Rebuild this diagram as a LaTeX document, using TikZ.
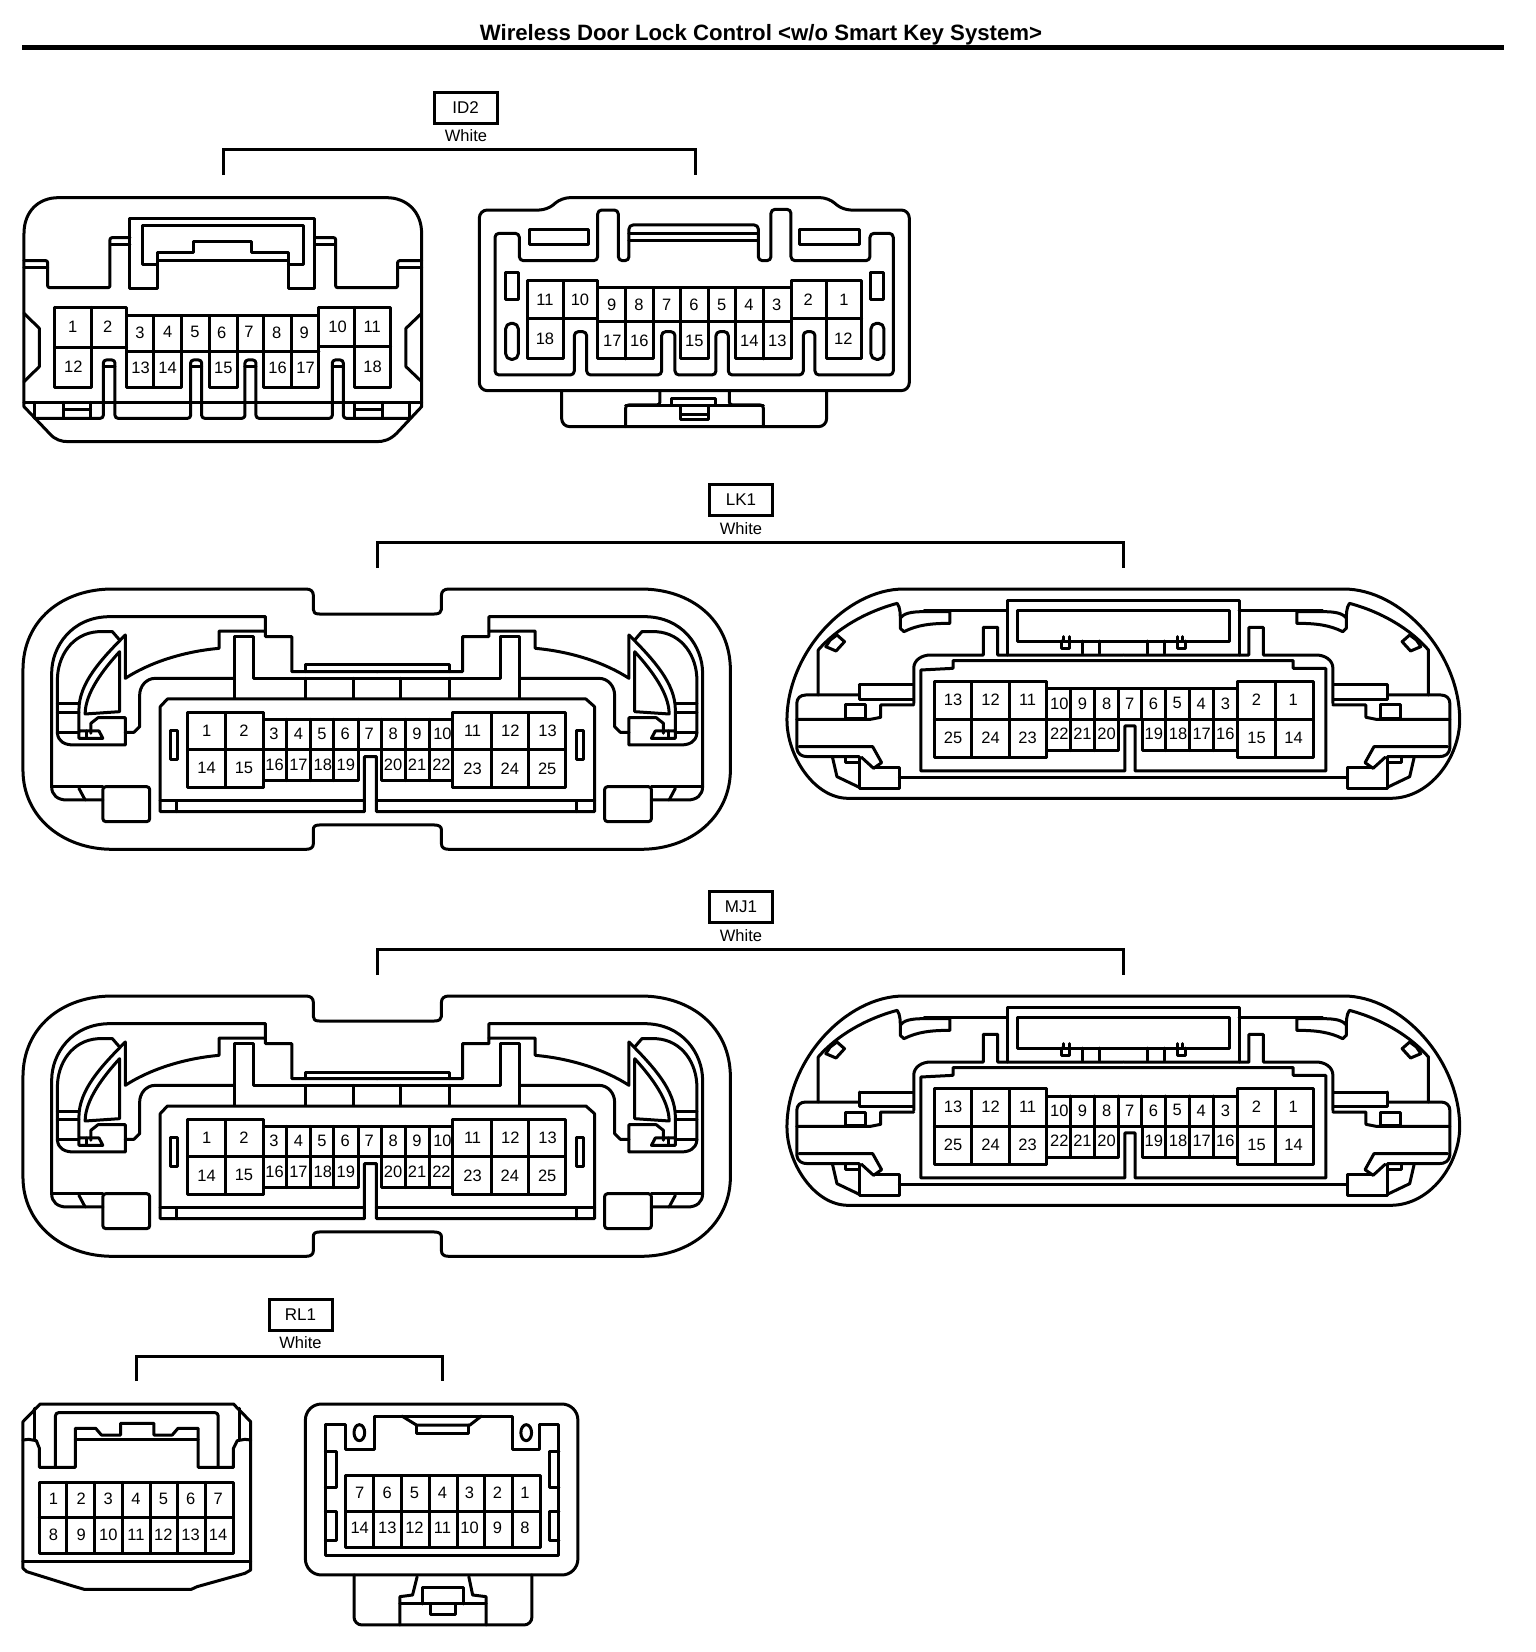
\documentclass[tikz,border=0pt]{standalone}
\usepackage{fontspec}
\setmainfont{Liberation Sans}
\tikzset{
  ln/.style={line width=3pt,line join=round,line cap=round},
  pinno/.style={inner sep=0pt,font=\fontsize{16.5}{17}\selectfont},
  codebox/.style={draw,line width=3pt,minimum width=63pt,minimum height=31pt,inner sep=0pt,font=\fontsize{17}{18}\selectfont},
  colourlbl/.style={inner sep=0pt,font=\fontsize{16.5}{18}\selectfont},
  brack/.style={line width=3pt,line cap=butt,line join=miter},
}
\newcommand{\pinset}[2]{\foreach \px/\py/\pt in {#2} \node[pinno] (#1\pt) at (\px,\py) {\pt};}
% ---------- LK1 / MJ1 left connector half ----------
\newcommand{\halfC}{%
  \draw[ln] (555,183) -- (555,140) -- (230,140) .. controls (150,140) and (108,230) .. (108,310) -- (108,650) .. controls (108,675) and (120,690) .. (140,690) -- (215,690);
  \draw[ln] (262,195) -- (262,325) .. controls (310,280) and (380,245) .. (458,235) -- (458,183) -- (555,183) -- (555,200) -- (610,200) -- (610,305) -- (789,305);
  \draw[ln] (250,210) -- (235,185) -- (205,185) .. controls (150,190) and (120,260) .. (120,330) -- (120,490) .. controls (122,515) and (135,525) .. (155,525) -- (262,525) -- (262,443) -- (205,443) -- (190,460) -- (190,490);
  \draw[ln] (262,195) .. controls (210,270) and (165,340) .. (165,420) -- (165,505) -- (215,505) -- (207,483) -- (165,483);
  \draw[ln] (180,505) -- (180,483);
  \draw[ln] (178,432) .. controls (178,370) and (215,300) .. (250,245) -- (250,425) -- cycle;
  \draw[ln] (120,402) -- (165,402) (120,428) -- (165,428) (120,487) -- (165,487);
  \draw[ln] (490,385) -- (490,200) -- (530,200) -- (530,325) -- (789,325);
  \draw[ln] (490,325) -- (325,325) .. controls (305,325) and (292,350) .. (292,375) -- (292,470) -- (280,487) -- (262,487);
  \draw[ln] (638,305) -- (638,285) -- (789,285);
  \draw[ln] (638,325) -- (638,385) (740,325) -- (740,385);
  \draw[ln] (108,650) -- (215,650);
  \draw[ln] (165,655) -- (178,690);
  \draw[ln,rounded corners=3pt] (215,650) -- (313,650) -- (313,755) -- (215,755) -- cycle;
  \draw[ln] (357,483) rectangle (372,570);
}
\newcommand{\connC}[2]{%
\begin{scope}[shift={(0,#1)},x=0.4783pt,y=-0.3333pt]
  \draw[ln] (48,300) .. controls (48,150) and (130,57) .. (235,57) -- (640,57) .. controls (650,57) and (655,65) .. (655,75) -- (655,118) .. controls (655,127) and (658,132) .. (668,132) -- (908,132) .. controls (918,132) and (923,127) .. (923,118) -- (923,75) .. controls (923,65) and (928,57) .. (938,57) -- (1340,57) .. controls (1445,57) and (1527,150) .. (1527,300) -- (1527,600) .. controls (1527,740) and (1445,838) .. (1340,838) -- (938,838) .. controls (928,838) and (923,832) .. (923,822) -- (923,780) .. controls (923,770) and (918,765) .. (908,765) -- (668,765) .. controls (658,765) and (655,770) .. (655,780) -- (655,822) .. controls (655,832) and (650,838) .. (640,838) -- (235,838) .. controls (130,838) and (48,740) .. (48,600) -- cycle;
  \halfC
  \begin{scope}[shift={(1577,0)},xscale=-1] \halfC \end{scope}
  \draw[ln] (335,410) -- (350,387) -- (1225,387) -- (1243,410) -- (1243,725) -- (787,725) -- (787,560) -- (762,560) -- (762,725) -- (335,725) -- cycle;
  \draw[ln] (335,693) -- (762,693) (787,693) -- (1243,693) (370,693) -- (370,725) (1205,693) -- (1205,725);
  \draw[ln] (838,325) -- (838,385);
  \draw[ln] (797,540) -- (797,632) -- (947,632) -- (947,652) -- (1182,652) -- (1182,428) -- (947,428) -- (947,448) -- (550,448) -- (550,428) -- (392,428) -- (392,652) -- (550,652) -- (550,632) -- (750,632) -- (750,540);
  \draw[ln] (392,540) -- (1182,540);
  \foreach \vx in {472,1028,1105,550,947} \draw[ln] (\vx,428) -- (\vx,652);
  \foreach \vx in {600,650,698,848,898} \draw[ln] (\vx,448) -- (\vx,632);
  \foreach \vx in {750,797} \draw[ln] (\vx,448) -- (\vx,540);
  \pinset{#2}{432/483/1,510/483/2,573/492/3,624/492/4,673/492/5,722/492/6,772/490/7,822/492/8,872/492/9,925/492/10,988/483/11,1067/483/12,1145/483/13,432/595/14,510/595/15,574/585/16,624/585/17,675/585/18,723/585/19,822/585/20,872/585/21,923/585/22,988/595/23,1066/595/24,1144/595/25}
\end{scope}}
% ---------- LK1 / MJ1 right connector half ----------
\newcommand{\halfD}{%
  \draw[ln] (108,375) -- (108,240) .. controls (150,175) and (215,125) .. (285,100) .. controls (292,115) and (292,125) .. (292,175) -- (300,185) .. controls (330,165) and (360,160) .. (403,160) -- (403,125) -- (345,125) .. controls (315,125) and (300,130) .. (291,145);
  \draw[ln] (345,120) -- (532,120);
  \draw[ln] (135,210) -- (150,195) -- (167,215) -- (148,243) -- (125,230) -- cycle;
  \draw[ln] (200,345) -- (320,345) (320,388) -- (200,388) -- (200,345);
  \draw[ln] (200,375) -- (80,375) .. controls (68,375) and (60,385) .. (60,400) -- (60,535) .. controls (62,552) and (70,560) .. (85,560) -- (200,560);
  \draw[ln] (60,448) -- (225,448) -- (248,442) -- (248,405) -- (322,405);
  \draw[ln] (65,530) -- (230,530) -- (250,578) -- (232,595) -- (205,562);
  \draw[ln] (170,405) -- (215,405) -- (215,445) -- (170,445) -- cycle;
  \draw[ln] (200,562) -- (200,655) -- (290,655) -- (290,592) -- (232,592);
  \draw[ln] (140,562) -- (150,620) -- (200,652);
  \draw[ln] (168,562) -- (168,578) -- (200,578);
  \draw[ln] (322,400) -- (322,295) .. controls (322,270) and (340,255) .. (360,255) -- (478,255) -- (478,172) -- (510,172) -- (510,255) -- (791,255);
  \draw[ln] (652,213) -- (652,235) -- (670,235) -- (670,200) (658,200) -- (658,213);
  \draw[ln] (700,213) -- (700,250) (737,213) -- (737,250);
}
\newcommand{\connD}[2]{%
\begin{scope}[shift={(770,#1)},x=0.4464pt,y=-0.3333pt]
  \draw[ln] (38,450) .. controls (38,250) and (170,57) .. (300,57) -- (1285,57) .. controls (1415,57) and (1545,250) .. (1545,450) .. controls (1545,560) and (1480,685) .. (1390,685) -- (175,685) .. controls (100,685) and (38,560) .. (38,450) -- cycle;
  \halfD
  \begin{scope}[shift={(1583,0)},xscale=-1] \halfD \end{scope}
  \draw[ln] (532,255) -- (532,90) -- (1052,90) -- (1052,255);
  \draw[ln] (555,120) -- (1030,120) -- (1030,213) -- (555,213) -- cycle;
  \draw[ln] (338,300) -- (410,295) -- (410,272) -- (1172,272) -- (1172,295) -- (1245,295) -- (1245,603) -- (818,603) -- (818,468) -- (795,468) -- (795,603) -- (338,603) -- cycle;
  \draw[ln] (290,622) -- (1293,622);
  \draw[ln] (835,448) -- (835,542) -- (1048,542) -- (1048,562) -- (1217,562) -- (1217,335) -- (1048,335) -- (1048,357) -- (620,357) -- (620,335) -- (368,335) -- (368,562) -- (620,562) -- (620,542) -- (780,542) -- (780,448);
  \draw[ln] (368,448) -- (1217,448);
  \foreach \vx in {452,537,620,1048,1133} \draw[ln] (\vx,335) -- (\vx,562);
  \foreach \vx in {673,727,887,940,993} \draw[ln] (\vx,357) -- (\vx,542);
  \foreach \vx in {780,833} \draw[ln] (\vx,357) -- (\vx,448);
  \pinset{#2}{410/390/13,494/390/12,577/390/11,648/400/10,700/400/9,754/400/8,806/400/7,859/400/6,912/400/5,966/400/4,1020/400/3,1090/390/2,1172/390/1,410/503/25,494/503/24,577/503/23,648/492/22,700/492/21,754/492/20,860/492/19,914/492/18,967/492/17,1020/492/16,1090/503/15,1173/503/14}
\end{scope}}
\begin{document}
\begin{tikzpicture}[x=1pt,y=-1pt]
\useasboundingbox (0,0) rectangle (1536,1652);
\fill[white] (0,0) rectangle (1536,1652);
% title
\node[inner sep=0pt,font=\bfseries\fontsize{22.2}{24}\selectfont] (title) at (761,35) {Wireless Door Lock Control <w/o Smart Key System>};
\coordinate (ruleL) at (22,47); \coordinate (ruleR) at (1504,47);
\draw[line width=5pt] (ruleL) -- (ruleR);
% ID2 header
\node[codebox] (id2) at (465.5,107.5) {ID2};
\node[colourlbl] (id2w) at (466,136) {White};
\coordinate (id2a) at (223,175); \coordinate (id2b) at (695,175);
\draw[brack] (id2a) -- (id2a |- 0,149.5) -- (id2b |- 0,149.5) -- (id2b);
% LK1 header
\node[codebox] (lk1) at (741,500) {LK1};
\node[colourlbl] (lk1w) at (741,528.5) {White};
\coordinate (lk1a) at (377,568); \coordinate (lk1b) at (1123,568);
\draw[brack] (lk1a) -- (lk1a |- 0,542) -- (lk1b |- 0,542) -- (lk1b);
% MJ1 header
\node[codebox] (mj1) at (741,907) {MJ1};
\node[colourlbl] (mj1w) at (741,935.5) {White};
\coordinate (mj1a) at (377,975); \coordinate (mj1b) at (1123,975);
\draw[brack] (mj1a) -- (mj1a |- 0,949) -- (mj1b |- 0,949) -- (mj1b);
% RL1 header
\node[codebox] (rl1) at (300.5,1314.5) {RL1};
\node[colourlbl] (rl1w) at (300.5,1342.5) {White};
\coordinate (rl1a) at (136,1381); \coordinate (rl1b) at (442,1381);
\draw[brack] (rl1a) -- (rl1a |- 0,1356) -- (rl1b |- 0,1356) -- (rl1b);
% ---------- ID2 left ----------
\begin{scope}[shift={(0,170)},x=0.3333pt,y=-0.3333pt]
  \draw[ln] (72,190) .. controls (72,125) and (115,83) .. (175,83) -- (1160,83) .. controls (1220,83) and (1265,125) .. (1265,190) -- (1265,710) -- (1190,790) .. controls (1170,810) and (1150,815) .. (1130,815) -- (205,815) .. controls (185,815) and (165,810) .. (148,790) -- (72,710) -- cycle;
  \draw[ln] (72,697) -- (1265,697);
  \draw[ln] (390,355) -- (390,145) -- (945,145) -- (945,355) -- (865,355) -- (865,272) -- (472,272) -- (472,355) -- cycle;
  \draw[ln] (472,285) -- (427,285) -- (427,168) -- (910,168) -- (910,285) -- (865,285);
  \draw[ln] (472,272) -- (472,248) -- (582,248) -- (582,215) -- (755,215) -- (755,248) -- (865,248) -- (865,272);
  \draw[ln,rounded corners=2pt] (72,272) -- (143,272) -- (143,353) -- (330,353) -- (330,203) -- (390,203);
  \draw[ln] (72,293) -- (143,293) (332,225) -- (390,225);
  \draw[ln,rounded corners=2pt] (1265,272) -- (1193,272) -- (1193,353) -- (1007,353) -- (1007,203) -- (945,203);
  \draw[ln] (1265,293) -- (1193,293) (1005,225) -- (945,225);
  \draw[ln] (72,430) -- (118,475) -- (118,590) -- (72,635);
  \draw[ln] (1265,430) -- (1218,475) -- (1218,590) -- (1265,635);
  \draw[ln] (165,412) -- (380,412) -- (380,437) -- (957,437) -- (957,412) -- (1172,412) -- (1172,652) -- (1065,652) -- (1065,412);
  \draw[ln] (165,412) -- (165,652) -- (275,652) -- (275,412);
  \draw[ln] (380,437) -- (380,652) -- (545,652) -- (545,437);
  \draw[ln] (628,437) -- (628,652) -- (712,652) -- (712,437);
  \draw[ln] (790,437) -- (790,652) -- (957,652) -- (957,437);
  \draw[ln] (461,437) -- (461,652) (875,437) -- (875,652);
  \draw[ln] (165,533) -- (380,533) (957,530) -- (1172,530) (380,545) -- (957,545);
  \draw[ln,rounded corners=3pt] (105,745) -- (310,745) -- (310,570) -- (345,570) -- (345,745) -- (572,745) -- (572,570) -- (605,570) -- (605,745) -- (735,745) -- (735,570) -- (768,570) -- (768,745) -- (997,745) -- (997,570) -- (1030,570) -- (1030,745) -- (1232,745);
  \foreach \kx/\ky in {310/345,572/605,735/768,997/1030} \draw[ln] (\kx,590) -- (\ky,590);
  \foreach \vx in {105,190,272,1065,1147,1230} \draw[ln] (\vx,697) -- (\vx,745);
  \draw[ln] (190,720) -- (272,720) (1065,720) -- (1147,720);
  \pinset{a}{218/470/1,323/470/2,420/487/3,503/487/4,585/487/5,665/487/6,747/487/7,830/487/8,913/487/9,1013/470/10,1117/470/11,220/590/12,422/595/13,503/595/14,670/595/15,833/595/16,917/595/17,1118/590/18}
\end{scope}
% ---------- ID2 right ----------
\begin{scope}[shift={(460,170)},x=0.3333pt,y=-0.3333pt]
  \draw[ln,rounded corners=8pt] (58,120) -- (262,120) -- (305,83) -- (1105,83) -- (1148,120) -- (1348,120) -- (1348,662) -- (58,662) -- cycle;
  \draw[ln,rounded corners=8pt] (305,662) -- (305,770) -- (1100,770) -- (1100,662);
  \draw[ln,rounded corners=3pt] (600,662) -- (600,705) -- (497,705) -- (497,770);
  \draw[ln,rounded corners=3pt] (808,662) -- (808,705) -- (910,705) -- (910,770);
  \draw[ln] (497,708) -- (910,708);
  \draw[ln] (635,685) rectangle (768,708);
  \draw[ln] (662,708) -- (662,750) -- (745,750) -- (745,708) (662,733) -- (745,733);
  \draw[ln,rounded corners=4pt] (105,190) -- (178,190) -- (178,272) -- (413,272) -- (413,120) -- (475,120) -- (475,272) -- (507,272) -- (507,165) -- (895,165) -- (895,272) -- (933,272) -- (933,118) -- (993,118) -- (993,272) -- (1230,272) -- (1230,190) -- (1300,190) -- (1300,615) -- (1065,615) -- (1065,485) -- (1030,485) -- (1030,615) -- (805,615) -- (805,485) -- (768,485) -- (768,615) -- (645,615) -- (645,485) -- (605,485) -- (605,615) -- (380,615) -- (380,485) -- (343,485) -- (343,615) -- (105,615) -- cycle;
  \draw[ln] (507,190) -- (895,190) (507,213) -- (895,213);
  \draw[ln] (208,178) rectangle (385,225) (1020,178) rectangle (1198,225);
  \draw[ln] (137,308) rectangle (175,390) (1233,308) rectangle (1272,390);
  \draw[ln,rounded corners=5.5pt] (137,460) rectangle (175,568);
  \draw[ln,rounded corners=5.5pt] (1233,460) rectangle (1272,568);
  \draw[ln] (203,332) -- (413,332) -- (413,353) -- (995,353) -- (995,332) -- (1205,332) -- (1205,567) -- (1100,567) -- (1100,332);
  \draw[ln] (203,332) -- (203,567) -- (310,567) -- (310,332);
  \draw[ln] (203,447) -- (413,447) (995,447) -- (1205,447) (413,455) -- (995,455);
  \draw[ln] (413,332) -- (413,567) -- (580,567) -- (580,353);
  \draw[ln] (663,353) -- (663,567) -- (745,567) -- (745,353);
  \draw[ln] (827,353) -- (827,567) -- (995,567) -- (995,332);
  \draw[ln] (497,353) -- (497,567) (910,353) -- (910,567);
  \pinset{b}{255/388/11,360/388/10,455/405/9,537/405/8,620/405/7,702/405/6,785/405/5,867/405/4,950/405/3,1045/388/2,1152/388/1,255/507/18,457/513/17,538/513/16,703/513/15,868/513/14,952/513/13,1150/507/12}
\end{scope}
\connC{570}{c}
\connD{570}{d}
\connC{977}{e}
\connD{977}{f}
% ---------- RL1 left ----------
\begin{scope}[shift={(0,1380)},x=0.3827pt,y=-0.3333pt]
  \draw[ln] (60,125) -- (105,72) -- (610,72) -- (655,125) -- (655,570) -- (640,580) -- (515,620) -- (500,628) -- (220,628) -- (190,618) -- (70,575) -- (60,565) -- cycle;
  \draw[ln] (60,543) -- (655,543);
  \draw[ln] (60,180) -- (75,178) -- (95,182) -- (103,205) -- (103,262) -- (197,262) -- (197,145) -- (250,145) -- (265,165) -- (315,165) -- (315,130) -- (402,130) -- (402,165) -- (450,165) -- (465,145) -- (518,145) -- (518,262) -- (610,262) -- (610,205) -- (620,182) -- (640,178) -- (655,180);
  \draw[ln] (197,178) -- (518,178);
  \draw[ln,rounded corners=3pt] (145,262) -- (145,98) -- (570,98) -- (570,262);
  \draw[ln] (90,85) -- (90,178) (625,85) -- (625,178);
  \draw[ln] (103,307) rectangle (610,520);
  \draw[ln] (103,412) -- (610,412);
  \foreach \vx in {175,248,320,392,465,538} \draw[ln] (\vx,307) -- (\vx,520);
  \pinset{g}{140/357/1,212/357/2,283/357/3,355/357/4,427/357/5,498/357/6,570/357/7,140/464/8,212/464/9,283/464/10,355/464/11,427/464/12,498/464/13,570/464/14}
\end{scope}
% ---------- RL1 right ----------
\begin{scope}[shift={(0,1380)},x=0.3827pt,y=-0.3333pt]
  \draw[ln,rounded corners=16pt] (798,72) rectangle (1510,585);
  \draw[ln] (850,132) -- (902,132) -- (902,207) -- (978,207) -- (978,108) -- (1338,108) -- (1338,207) -- (1410,207) -- (1410,132) -- (1460,132) -- (1460,525) -- (850,525) -- cycle;
  \draw[ln] (850,215) -- (878,215) -- (878,322) -- (850,322) (850,395) -- (878,395) -- (878,480) -- (850,480);
  \draw[ln] (1460,215) -- (1435,215) -- (1435,322) -- (1460,322) (1460,395) -- (1435,395) -- (1435,480) -- (1460,480);
  \draw[ln] (939,158) ellipse [x radius=14,y radius=24];
  \draw[ln] (1375,158) ellipse [x radius=14,y radius=24];
  \draw[ln] (1050,108) -- (1088,135) -- (1228,135) -- (1258,108);
  \draw[ln] (1088,135) -- (1088,160) -- (1225,160) -- (1225,135);
  \draw[ln] (903,287) rectangle (1412,502);
  \draw[ln] (903,393) -- (1412,393);
  \foreach \vx in {975,1050,1122,1195,1265,1340} \draw[ln] (\vx,287) -- (\vx,502);
  \pinset{h}{940/338/7,1012/338/6,1083/338/5,1156/338/4,1227/338/3,1300/338/2,1372/338/1,940/444/14,1012/444/13,1083/444/12,1156/444/11,1227/444/10,1300/444/9,1372/444/8}
  \draw[ln,rounded corners=8pt] (925,585) -- (925,735) -- (1390,735) -- (1390,585);
  \draw[ln] (1090,590) -- (1078,645) -- (1045,650) -- (1045,735);
  \draw[ln] (1225,590) -- (1235,645) -- (1270,650) -- (1270,735);
  \draw[ln] (1045,672) -- (1270,672);
  \draw[ln] (1105,672) -- (1105,622) -- (1210,622) -- (1210,672);
  \draw[ln] (1125,672) -- (1125,705) -- (1190,705) -- (1190,672);
\end{scope}
\end{tikzpicture}
\end{document}
